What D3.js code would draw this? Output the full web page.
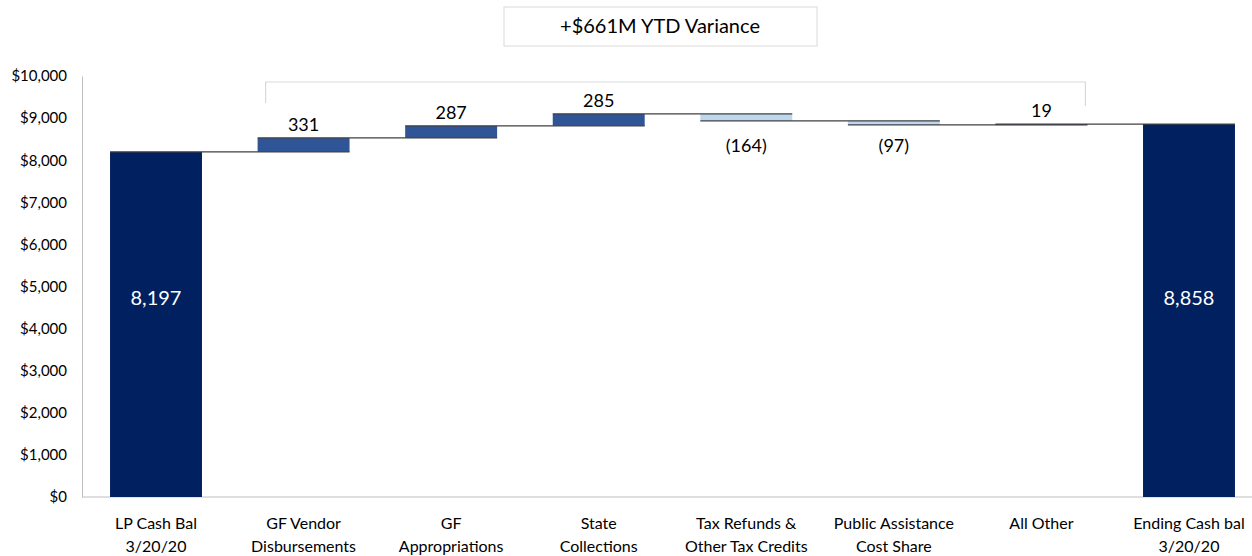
<!DOCTYPE html>
<html>
<head>
<meta charset="utf-8">
<script src="https://cdn.jsdelivr.net/npm/d3@7"></script>
<style>
  body { margin: 0; background: #fff; }
  text { font-family: Lato, "Open Sans", sans-serif; }
</style>
</head>
<body>
<div id="chart"></div>
<script>
var width = 1252;
var height = 556;

// chart data
var categories = ["LP Cash Bal 3/20/20", "GF Vendor Disbursements", "GF Appropriations", "State Collections",
                  "Tax Refunds & Other Tax Credits", "Public Assistance Cost Share", "All Other", "Ending Cash bal 3/20/20"];
var labelLines = [["LP Cash Bal", "3/20/20"], ["GF Vendor", "Disbursements"], ["GF", "Appropriations"], ["State", "Collections"],
                  ["Tax Refunds &", "Other Tax Credits"], ["Public Assistance", "Cost Share"], ["All Other"], ["Ending Cash bal", "3/20/20"]];
var values = [8197, 331, 287, 285, -164, -97, 19, 8858];
var kinds = ["total", "delta", "delta", "delta", "delta", "delta", "delta", "total"];
var yTicks = [0, 1000, 2000, 3000, 4000, 5000, 6000, 7000, 8000, 9000, 10000];
var varianceText = "+$661M YTD Variance";

var svg = d3.select("#chart")
            .append("svg")
            .attr("width", width)
            .attr("height", height);

var x = d3.scaleBand()
          .domain(categories)
          .range([82, 1263])
          .paddingInner(0.377)
          .paddingOuter(0.19);

var y = d3.scaleLinear()
          .domain([0, 10000])
          .range([497, 76]);

// build waterfall steps
var running = 0;
var steps = values.map((v, i) => {
    var s;
    if (kinds[i] === "total") {
        s = {cat: categories[i], v: v, y0: 0, y1: v, kind: "total"};
        running = v;
    } else {
        s = {cat: categories[i], v: v, y0: running, y1: running + v, kind: v >= 0 ? "up" : "down"};
        running += v;
    }
    return s;
});

var colors = {total: "#002060", up: "#2F5597", down: "#BDD7EE"};

// axes
var yAxis = d3.axisLeft(y)
              .tickValues(yTicks)
              .tickSize(0)
              .tickPadding(15)
              .tickFormat(d => "$" + d3.format(",")(d));

var gy = svg.append("g")
            .attr("transform", "translate(82,0)")
            .call(yAxis);
gy.select(".domain").attr("stroke", "#bfbfbf");
gy.selectAll("text").attr("font-size", 15).attr("fill", "#000")
  .style("font-family", "Lato, 'Open Sans', sans-serif");

svg.append("line")
   .attr("x1", 82).attr("x2", width)
   .attr("y1", y(0)).attr("y2", y(0))
   .attr("stroke", "#bfbfbf");

// bars
svg.selectAll("rect.bar")
   .data(steps)
   .enter()
   .append("rect")
   .attr("class", "bar")
   .attr("x", d => x(d.cat))
   .attr("width", x.bandwidth())
   .attr("y", d => y(Math.max(d.y0, d.y1)))
   .attr("height", d => Math.max(1, Math.abs(y(d.y0) - y(d.y1))))
   .attr("fill", d => colors[d.kind]);

// connector lines
var connectors = steps.slice(0, -1).map((d, i) => ({
    from: d.cat, to: steps[i + 1].cat, level: d.y1
}));
svg.selectAll("line.conn")
   .data(connectors)
   .enter()
   .append("line")
   .attr("class", "conn")
   .attr("x1", d => x(d.from))
   .attr("x2", d => x(d.to) + x.bandwidth())
   .attr("y1", d => y(d.level))
   .attr("y2", d => y(d.level))
   .attr("stroke", "#404040")
   .attr("stroke-width", 1.2);

// value labels
svg.selectAll("text.val")
   .data(steps)
   .enter()
   .append("text")
   .attr("class", "val")
   .attr("x", d => x(d.cat) + x.bandwidth() / 2)
   .attr("y", d => {
       if (d.kind === "total") return y(4550);
       if (d.kind === "up") return y(d.y1) - 7;
       return y(8750) + 23;
   })
   .attr("text-anchor", "middle")
   .attr("font-size", d => d.kind === "total" ? 20 : 18)
   .attr("fill", d => d.kind === "total" ? "#fff" : "#000")
   .text(d => d.v < 0 ? "(" + d3.format(",")(-d.v) + ")" : d3.format(",")(d.v));

// category labels
var xl = svg.selectAll("text.cat")
            .data(categories)
            .enter()
            .append("text")
            .attr("class", "cat")
            .attr("text-anchor", "middle")
            .attr("font-size", 16)
            .attr("fill", "#000");
xl.each(function(d, i) {
    var t = d3.select(this);
    labelLines[i].forEach((ln, j) => {
        t.append("tspan")
         .attr("x", x(d) + x.bandwidth() / 2)
         .attr("y", 529 + j * 23)
         .text(ln);
    });
});

// bracket over the variance items
var bx0 = x(categories[1]) + 8;
var bx1 = x(categories[6]) + x.bandwidth() - 2;
svg.append("path")
   .attr("d", "M" + bx0 + "," + 103 + "V" + 82 + "H" + bx1 + "V" + 106)
   .attr("fill", "none")
   .attr("stroke", "#d9d9d9")
   .attr("stroke-width", 1.2);

// variance box
svg.append("rect")
   .attr("x", 504).attr("y", 7)
   .attr("width", 313).attr("height", 39)
   .attr("fill", "#fff")
   .attr("stroke", "#d9d9d9");
svg.append("text")
   .attr("x", 660).attr("y", 33)
   .attr("text-anchor", "middle")
   .attr("font-size", 20)
   .attr("fill", "#000")
   .text(varianceText);
</script>
</body>
</html>
